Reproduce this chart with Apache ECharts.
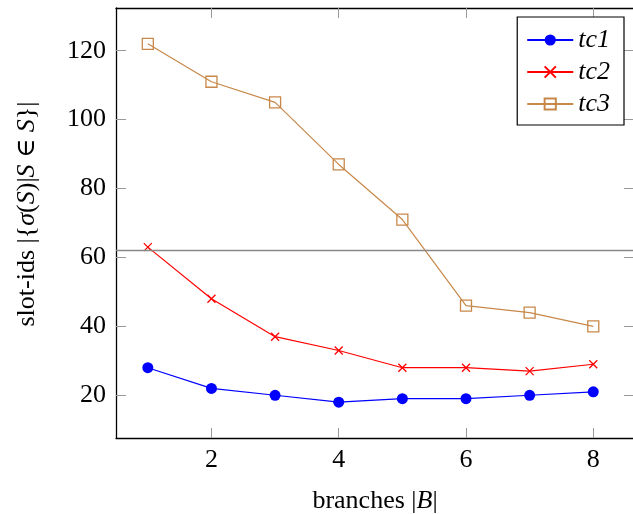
<!DOCTYPE html>
<html>
<head>
<meta charset="utf-8">
<script src="https://cdn.jsdelivr.net/npm/echarts@6/dist/echarts.min.js"></script>
<style>
  html, body { margin: 0; padding: 0; background: #fff; }
  #chart { width: 633px; height: 514px; }
</style>
</head>
<body>
<div id="chart"></div>
<script>
// values
const branches = [1, 2, 3, 4, 5, 6, 7, 8];
const tc1 = [28, 22, 20, 18, 19, 19, 20, 21];
const tc2 = [63, 48, 37, 33, 28, 28, 27, 29];
const tc3 = [122, 111, 105, 87, 71, 46, 44, 40];
const xTicks = [2, 4, 6, 8];
const yTicks = [20, 40, 60, 80, 100, 120];
const refLine = 62;

const serif = '"Liberation Serif", "DejaVu Serif", serif';
const brown = '#c8884a';
const fs = 26;

const pairs = (ys) => branches.map((x, i) => [x, ys[i]]);
const richText = {
  n: { fontFamily: serif, fontSize: fs, color: '#000' },
  i: { fontFamily: serif, fontSize: fs, fontStyle: 'italic', color: '#000' }
};

const chart = echarts.init(document.getElementById('chart'));

const xBase = {
  type: 'value', min: 0.5, max: 8.64,
  axisTick: { show: true, inside: true, length: 10, customValues: xTicks, lineStyle: { color: '#999' } },
  splitLine: { show: false }
};
const yBase = {
  type: 'value', min: 7.6, max: 132.4,
  axisTick: { show: true, inside: true, length: 10, customValues: yTicks, lineStyle: { color: '#999' } },
  splitLine: { show: false }
};

chart.setOption({
  animation: false,
  grid: { left: 116, top: 8, right: -1, bottom: 76, outerBoundsMode: 'none' },
  xAxis: [
    Object.assign({}, xBase, {
      position: 'bottom',
      axisLine: { show: true, lineStyle: { color: '#000', width: 1.3 } },
      axisLabel: { customValues: xTicks, color: '#000', fontFamily: serif, fontSize: fs, margin: 9 },
      name: '{n|branches |}{i|B}{n||}',
      nameLocation: 'middle', nameGap: 50,
      nameTextStyle: { fontFamily: serif, fontSize: fs, color: '#000', rich: richText }
    }),
    Object.assign({}, xBase, {
      position: 'top',
      axisLine: { show: true, lineStyle: { color: '#000', width: 1.3 } },
      axisLabel: { show: false }
    })
  ],
  yAxis: [
    Object.assign({}, yBase, {
      position: 'left',
      axisLine: { show: true, lineStyle: { color: '#000', width: 1.3 } },
      axisLabel: { customValues: yTicks, color: '#000', fontFamily: serif, fontSize: fs, margin: 10 }
    }),
    Object.assign({}, yBase, {
      position: 'right',
      axisLine: { show: false },
      axisLabel: { show: false }
    })
  ],
  graphic: [{
    type: 'text',
    x: 27, y: 214,
    rotation: Math.PI / 2,
    style: {
      text: '{n|slot-ids |{}{i|σ}{n|(}{i|S}{n|)|}{i|S}{n| ∈ }{i|S}}|',
      rich: richText,
      font: fs + 'px ' + serif,
      fill: '#000',
      align: 'center',
      verticalAlign: 'middle'
    }
  }],
  legend: {
    right: 9, top: 17,
    orient: 'vertical',
    backgroundColor: '#fff',
    borderColor: '#000', borderWidth: 1.2,
    padding: [10, 14, 8, 9],
    itemGap: 6,
    itemWidth: 46, itemHeight: 14,
    textStyle: { fontFamily: serif, fontSize: fs, fontStyle: 'italic', color: '#000' },
    data: ['tc1', 'tc2', 'tc3']
  },
  series: [
    {
      name: 'tc1', type: 'line', data: pairs(tc1),
      color: '#0000ff',
      lineStyle: { width: 1.2, color: '#0000ff' },
      symbol: 'circle', symbolSize: 11,
      itemStyle: { color: '#0000ff' },
      markLine: {
        silent: true, symbol: 'none',
        label: { show: false },
        lineStyle: { color: '#888', type: 'solid', width: 1.3 },
        data: [{ yAxis: refLine }]
      }
    },
    {
      name: 'tc2', type: 'line', data: pairs(tc2),
      color: '#ff0000',
      lineStyle: { width: 1.2, color: '#ff0000' },
      symbol: 'path://M0,0 L10,10 M10,0 L0,10', symbolSize: 8,
      itemStyle: { color: 'none', borderColor: '#ff0000', borderWidth: 1.3 }
    },
    {
      name: 'tc3', type: 'line', data: pairs(tc3),
      color: brown,
      lineStyle: { width: 1.2, color: brown },
      symbol: 'rect', symbolSize: 11,
      itemStyle: { color: 'rgba(255,255,255,0)', borderColor: brown, borderWidth: 1.3 }
    }
  ]
});
</script>
</body>
</html>
